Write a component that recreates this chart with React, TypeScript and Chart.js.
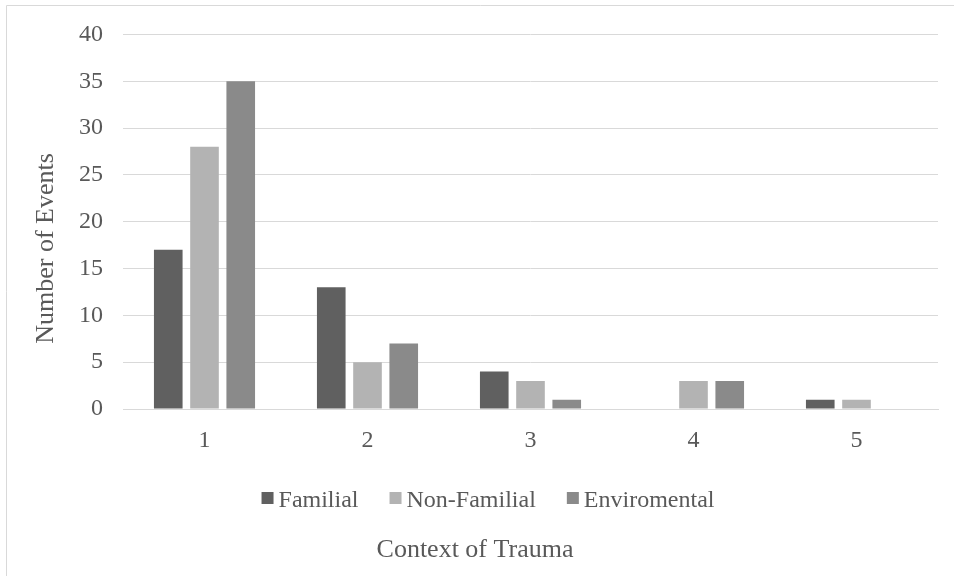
import React, { useEffect, useRef } from "react";
import { Chart, registerables } from "chart.js";

Chart.register(...registerables);

const categories = ["1", "2", "3", "4", "5"];
const familial = [17, 13, 4, 0, 1];
const nonFamilial = [28, 5, 3, 3, 1];
const enviromental = [35, 7, 1, 3, 0];
const seriesNames = ["Familial", "Non-Familial", "Enviromental"];
const seriesColors = ["#606060", "#b3b3b3", "#8a8a8a"];
const yMin = 0;
const yMax = 40;
const yStep = 5;
const xTitle = "Context of Trauma";
const yTitle = "Number of Events";

const TEXT = "#595959";
const GRID = "#d9d9d9";
const FONT = '"Liberation Serif", "Times New Roman", serif';

const overlayPlugin = {
  id: "overlay",
  beforeDraw(chart: any) {
    const ctx = chart.ctx;
    ctx.save();
    ctx.strokeStyle = GRID;
    ctx.lineWidth = 1;
    ctx.beginPath();
    ctx.moveTo(6.5, 600);
    ctx.lineTo(6.5, 5.5);
    ctx.lineTo(1000, 5.5);
    ctx.stroke();
    ctx.restore();
  },
  afterDraw(chart: any) {
    const ctx = chart.ctx;
    ctx.save();
    ctx.fillStyle = TEXT;
    ctx.font = `26px ${FONT}`;
    ctx.textAlign = "center";
    ctx.textBaseline = "alphabetic";
    ctx.fillText(xTitle, 475, 557);
    ctx.save();
    ctx.translate(52.5, 248.5);
    ctx.rotate(-Math.PI / 2);
    ctx.fillText(yTitle, 0, 0);
    ctx.restore();

    // legend
    ctx.font = `24px ${FONT}`;
    ctx.textAlign = "left";
    const box = 12;
    const gap = 5;
    const spacing = 31;
    const items = chart.data.datasets.map((d: any) => ({
      text: d.label,
      color: d.backgroundColor,
      w: ctx.measureText(d.label).width,
    }));
    let total = 0;
    items.forEach((it: any) => (total += box + gap + it.w));
    total += spacing * (items.length - 1);
    let x = 488 - total / 2;
    items.forEach((it: any) => {
      ctx.fillStyle = it.color;
      ctx.fillRect(x, 492, box, box);
      ctx.fillStyle = TEXT;
      ctx.fillText(it.text, x + box + gap, 506.5);
      x += box + gap + it.w + spacing;
    });
    ctx.restore();
  },
};

export default function App() {
  const ref = useRef<HTMLCanvasElement | null>(null);

  useEffect(() => {
    if (!ref.current) return;
    const chart = new Chart(ref.current, {
      type: "bar",
      data: {
        labels: categories,
        datasets: [familial, nonFamilial, enviromental].map((vals, i) => ({
          label: seriesNames[i],
          data: vals,
          backgroundColor: seriesColors[i],
          borderWidth: 0,
          categoryPercentage: 0.667,
          barPercentage: 0.79,
        })),
      },
      options: {
        animation: false,
        responsive: false,
        devicePixelRatio: 1,
        layout: { padding: { top: 34, right: 16, left: 0, bottom: 0 } },
        plugins: {
          legend: { display: false },
          tooltip: { enabled: false },
        },
        scales: {
          x: {
            grid: { display: false, drawTicks: false },
            border: { display: true, color: GRID, width: 1 },
            ticks: {
              color: TEXT,
              font: { family: FONT, size: 24 },
              padding: 17,
            },
            afterFit(scale: any) {
              scale.height = 167;
            },
          },
          y: {
            min: yMin,
            max: yMax,
            ticks: {
              stepSize: yStep,
              color: TEXT,
              font: { family: FONT, size: 24 },
              padding: 20,
            },
            grid: { color: GRID, lineWidth: 1, drawTicks: false },
            border: { display: false },
            afterFit(scale: any) {
              scale.width = 123;
            },
          },
        },
      },
      plugins: [overlayPlugin],
    });
    return () => chart.destroy();
  }, []);

  return (
    <div
      style={{
        position: "fixed",
        left: 0,
        top: 0,
        width: 954,
        height: 576,
        overflow: "hidden",
        background: "#fff",
      }}
    >
      <canvas ref={ref} width={954} height={576} style={{ width: 954, height: 576 }} />
    </div>
  );
}
